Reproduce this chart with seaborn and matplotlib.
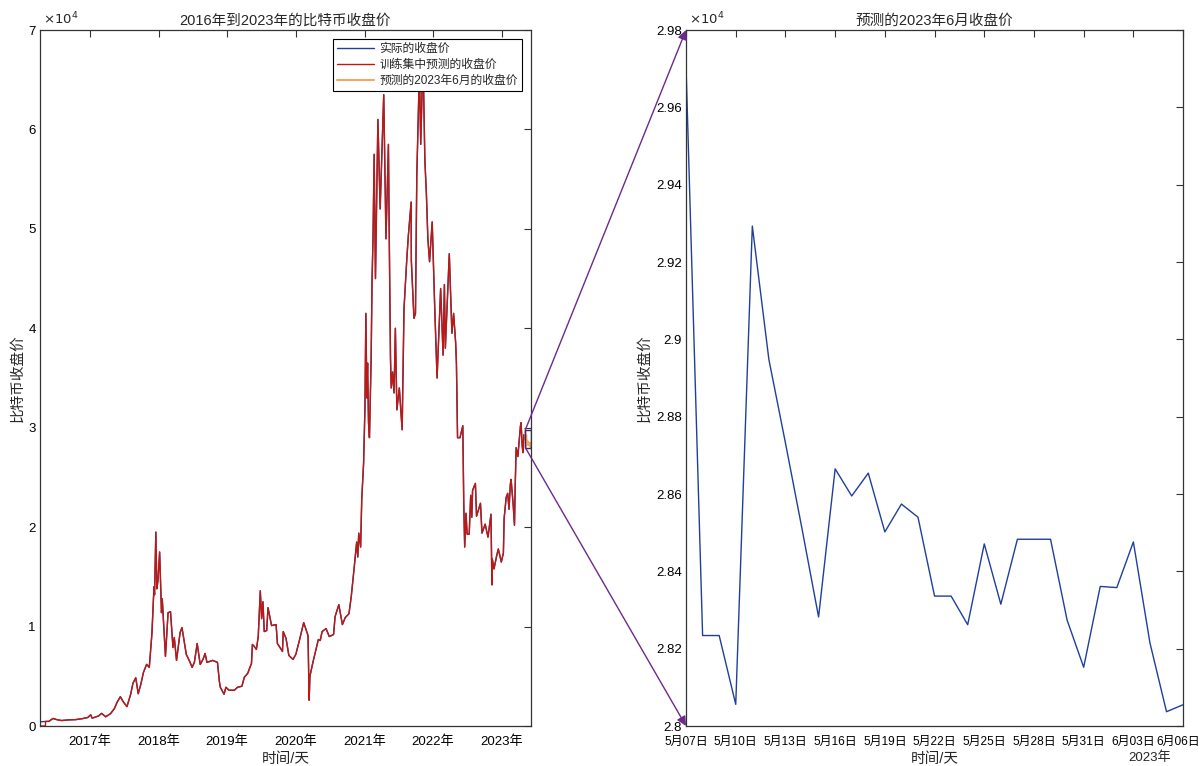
import pandas as pd
import matplotlib
matplotlib.use("Agg")
import matplotlib.pyplot as plt
from matplotlib.patches import Rectangle, ConnectionPatch
from matplotlib.ticker import FuncFormatter, MultipleLocator
from matplotlib.transforms import ScaledTranslation
import matplotlib.dates as mdates
import seaborn as sns

sns.set_theme(style="white")
plt.rcParams["font.family"] = ["Liberation Sans", "Noto Sans CJK SC", "DejaVu Sans"]
plt.rcParams["axes.unicode_minus"] = False

# 实际收盘价 (USD)
train_dates = [
    "2016-04-09", "2016-05-01", "2016-05-27", "2016-06-17", "2016-07-08", "2016-08-02",
    "2016-09-10", "2016-10-15", "2016-11-20", "2016-12-20", "2017-01-04", "2017-01-12",
    "2017-02-15", "2017-03-03", "2017-03-25", "2017-04-20", "2017-05-10", "2017-05-25",
    "2017-06-11", "2017-06-26", "2017-07-16", "2017-08-05", "2017-08-17", "2017-09-01",
    "2017-09-14", "2017-09-28", "2017-10-12", "2017-10-29", "2017-11-12", "2017-11-26",
    "2017-12-07", "2017-12-10", "2017-12-17", "2017-12-22", "2017-12-28", "2018-01-06",
    "2018-01-16", "2018-01-20", "2018-02-06", "2018-02-20", "2018-03-05", "2018-03-18",
    "2018-03-25", "2018-04-06", "2018-04-25", "2018-05-05", "2018-05-28", "2018-06-15",
    "2018-06-28", "2018-07-10", "2018-07-25", "2018-08-10", "2018-08-25", "2018-09-05",
    "2018-09-15", "2018-10-15", "2018-11-10", "2018-11-20", "2018-11-25", "2018-12-15",
    "2018-12-25", "2019-01-10", "2019-02-08", "2019-02-25", "2019-03-20", "2019-04-02",
    "2019-04-20", "2019-05-10", "2019-05-15", "2019-05-25", "2019-06-05", "2019-06-15",
    "2019-06-26", "2019-07-03", "2019-07-10", "2019-07-17", "2019-07-30", "2019-08-06",
    "2019-08-25", "2019-09-18", "2019-09-25", "2019-10-22", "2019-10-26", "2019-11-10",
    "2019-11-25", "2019-12-17", "2020-01-01", "2020-01-20", "2020-02-12", "2020-03-06",
    "2020-03-12", "2020-03-16", "2020-04-01", "2020-04-30", "2020-05-10", "2020-05-20",
    "2020-06-10", "2020-06-27", "2020-07-20", "2020-07-28", "2020-08-17", "2020-09-05",
    "2020-09-20", "2020-10-10", "2020-10-22", "2020-11-05", "2020-11-20", "2020-11-26",
    "2020-12-01", "2020-12-11", "2020-12-17", "2020-12-27", "2021-01-03", "2021-01-08",
    "2021-01-13", "2021-01-17", "2021-01-22", "2021-01-27", "2021-02-05", "2021-02-10",
    "2021-02-15", "2021-02-21", "2021-02-28", "2021-03-13", "2021-03-25", "2021-04-13",
    "2021-04-25", "2021-05-08", "2021-05-12", "2021-05-19", "2021-05-23", "2021-05-30",
    "2021-06-07", "2021-06-14", "2021-06-22", "2021-07-05", "2021-07-20", "2021-07-30",
    "2021-08-14", "2021-08-22", "2021-09-06", "2021-09-07", "2021-09-21", "2021-09-29",
    "2021-10-06", "2021-10-20", "2021-10-27", "2021-11-08", "2021-11-18", "2021-11-26",
    "2021-12-04", "2021-12-13", "2021-12-27", "2022-01-10", "2022-01-22", "2022-02-10",
    "2022-02-23", "2022-03-02", "2022-03-07", "2022-03-28", "2022-04-11", "2022-04-20",
    "2022-05-01", "2022-05-05", "2022-05-11", "2022-05-24", "2022-06-08", "2022-06-13",
    "2022-06-18", "2022-06-25", "2022-07-01", "2022-07-12", "2022-07-20", "2022-07-26",
    "2022-07-30", "2022-08-14", "2022-08-20", "2022-09-10", "2022-09-18", "2022-10-05",
    "2022-10-20", "2022-11-05", "2022-11-09", "2022-11-10", "2022-11-12", "2022-11-21",
    "2022-12-05", "2022-12-14", "2022-12-30", "2023-01-10", "2023-01-14", "2023-01-25",
    "2023-02-02", "2023-02-09", "2023-02-16", "2023-02-20", "2023-03-03", "2023-03-10",
    "2023-03-14", "2023-03-19", "2023-03-28", "2023-04-11", "2023-04-14", "2023-04-20",
    "2023-04-24", "2023-04-29", "2023-05-06",
]
actual_close = [
    420, 450, 470, 760, 640, 550,
    620, 640, 740, 860, 1130, 790,
    1010, 1270, 930, 1250, 1750, 2400,
    2950, 2450, 1950, 3200, 4300, 4850,
    3250, 4200, 5400, 6200, 5900, 9300,
    14000, 13200, 19500, 13800, 14600, 17500,
    11400, 12800, 7000, 11400, 11500, 7900,
    8900, 6600, 9400, 9900, 7200, 6500,
    5900, 6400, 8300, 6200, 6700, 7300,
    6400, 6600, 6400, 4500, 3900, 3200,
    3900, 3600, 3600, 3900, 4000, 4900,
    5300, 6300, 8200, 8000, 7700, 9000,
    13600, 10800, 12500, 9500, 9600, 11900,
    10100, 10200, 8300, 7500, 9500, 8800,
    7100, 6700, 7200, 8600, 10400, 9100,
    2600, 5000, 6400, 8700, 8600, 9500,
    9800, 9000, 9200, 11000, 12200, 10200,
    10900, 11300, 13000, 15600, 18500, 17000,
    19400, 18000, 22800, 26500, 32000, 41500,
    33000, 36500, 30500, 29000, 37000, 45000,
    49000, 57500, 45000, 61000, 52000, 63500,
    49000, 58500, 50000, 37000, 34000, 35600,
    33500, 40000, 31800, 34000, 29800, 42000,
    47000, 49300, 52700, 46800, 41000, 41500,
    55300, 66000, 58500, 67500, 56900, 53600,
    49000, 46700, 50700, 41800, 35000, 44000,
    37300, 44400, 38000, 47500, 39500, 41500,
    38500, 36500, 29000, 29000, 30200, 22400,
    18000, 21400, 19300, 19300, 23200, 21000,
    23700, 24400, 21100, 22400, 19400, 20300,
    19000, 21300, 15900, 14200, 16800, 15800,
    17100, 17800, 16500, 17400, 20900, 23000,
    23400, 21800, 24300, 24800, 22300, 20200,
    24200, 28000, 27100, 30200, 30500, 28200,
    27500, 29300, 28800,
]

# 训练集预测: 前一段为 0, 之后与实际值重合
lag_dates = ["2016-04-09", "2016-05-08", "2016-05-09"]
lag_values = [0, 0, 460]

# 预测的2023年6月收盘价
fc_dates = pd.date_range("2023-05-07", "2023-06-06", freq="D")
fc_close = [
    29704, 28234, 28234, 28056, 29293, 28948, 28732, 28510, 28282, 28665,
    28595, 28654, 28502, 28574, 28540, 28336, 28336, 28262, 28471, 28315,
    28483, 28483, 28483, 28274, 28152, 28361, 28358, 28476, 28215, 28037,
    28055,
]

year_ticks = [2017, 2018, 2019, 2020, 2021, 2022, 2023]

BLUE = "#1f3f9c"
RED = "#c0180f"
ORANGE = "#f2a66a"
PURPLE = "#6c2a8a"
AXC = "#333333"

train_dt = pd.to_datetime(train_dates)
cut = pd.Timestamp(lag_dates[-1])
pred_dt = list(pd.to_datetime(lag_dates)) + [d for d in train_dt if d > cut]
pred_close = lag_values + [v for d, v in zip(train_dt, actual_close) if d > cut]

fig = plt.figure(figsize=(12, 7.66), dpi=100)
ax1 = fig.add_axes([0.0333, 0.0522, 0.4092, 0.9086])
ax2 = fig.add_axes([0.5717, 0.0522, 0.4142, 0.9086])

sns.lineplot(x=train_dt, y=actual_close, ax=ax1, color=BLUE, lw=1, label="实际的收盘价")
sns.lineplot(x=pred_dt, y=pred_close, ax=ax1, color=RED, lw=1, label="训练集中预测的收盘价")
sns.lineplot(x=fc_dates, y=fc_close, ax=ax1, color=ORANGE, lw=1.5, label="预测的2023年6月的收盘价")

sns.lineplot(x=fc_dates, y=fc_close, ax=ax2, color=BLUE, lw=1, legend=False)

fmt = FuncFormatter(lambda v, p: f"{round(v / 1e4, 4):g}")

# left panel
ax1.set_xlim(pd.Timestamp("2016-04-09"), pd.Timestamp("2023-06-06"))
ax1.set_ylim(0, 70000)
ax1.yaxis.set_major_locator(MultipleLocator(10000))
ax1.yaxis.set_major_formatter(fmt)
ax1.set_xticks(pd.to_datetime([f"{y}-01-01" for y in year_ticks]))
ax1.set_xticklabels([f"{y}年" for y in year_ticks])
ax1.set_title("2016年到2023年的比特币收盘价", fontsize=10.5, pad=4)
ax1.set_xlabel("时间/天", fontsize=10.5, labelpad=3)
ax1.set_ylabel("比特币收盘价", fontsize=10.5, labelpad=3)
ax1.text(0.006, 1.004, r"$\times10^{4}$", transform=ax1.transAxes, ha="left", va="bottom", fontsize=9.5)

leg = ax1.legend(loc="upper right", fontsize=8.5, frameon=True, fancybox=False, edgecolor="black",
                 framealpha=1, borderaxespad=0.8, handlelength=3.1, borderpad=0.3,
                 labelspacing=0.35, handletextpad=0.5)
leg.get_frame().set_linewidth(0.8)

# zoom box
box_x0 = mdates.date2num(pd.Timestamp("2023-05-07"))
box_x1 = mdates.date2num(pd.Timestamp("2023-06-06"))
ax1.add_patch(Rectangle((box_x0, 28000), box_x1 - box_x0, 1800, fill=False,
                        edgecolor="#3b2660", lw=1, zorder=5))

# right panel
ax2.set_xlim(fc_dates[0], fc_dates[-1])
ax2.set_ylim(28000, 29800)
ax2.yaxis.set_major_locator(MultipleLocator(200))
ax2.yaxis.set_major_formatter(fmt)
tick_days = fc_dates[::3]
ax2.set_xticks(tick_days)
ax2.set_xticklabels([f"{d.month}月{d.day:02d}日" for d in tick_days])
ax2.set_title("预测的2023年6月收盘价", fontsize=10.5, pad=4)
ax2.set_xlabel("时间/天", fontsize=10.5, labelpad=3)
ax2.set_ylabel("比特币收盘价", fontsize=10.5, labelpad=3)
ax2.text(0.006, 1.004, r"$\times10^{4}$", transform=ax2.transAxes, ha="left", va="bottom", fontsize=9.5)
ax2.text(0.975, -0.036, "2023年", transform=ax2.transAxes, ha="right", va="top", fontsize=9.5)

for ax in (ax1, ax2):
    ax.tick_params(direction="in", top=True, right=True, length=5, width=0.8,
                   color=AXC, labelsize=9.5, pad=3, labelcolor="black")
    ax.tick_params(axis="x", pad=7)
    for sp in ax.spines.values():
        sp.set_color(AXC)
        sp.set_linewidth(0.9)
    ax.grid(False)

ax2.tick_params(axis="x", labelsize=8.6)
last = ax2.get_xticklabels()[-1]
last.set_transform(last.get_transform() + ScaledTranslation(-3.6 / 72, 0, fig.dpi_scale_trans))

# arrows from the zoom box to the right panel
for yv, corner in ((29800, (0, 1)), (28000, (0, 0))):
    con = ConnectionPatch(xyA=(box_x0, yv), coordsA=ax1.transData, xyB=corner, coordsB=ax2.transAxes,
                          arrowstyle="-|>", color=PURPLE, lw=1, mutation_scale=14,
                          shrinkA=0, shrinkB=0, zorder=10)
    fig.add_artist(con)

fig.savefig("out.png", dpi=100)
